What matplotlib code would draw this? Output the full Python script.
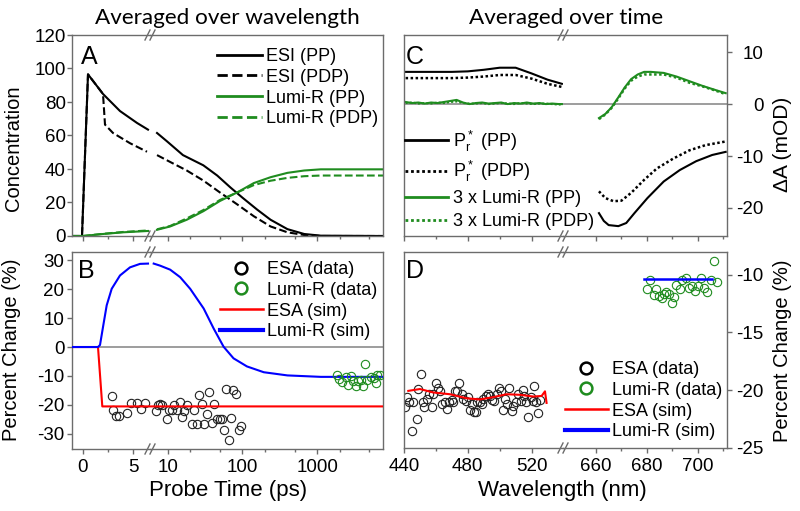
import matplotlib
matplotlib.use('Agg')
import matplotlib.pyplot as plt
from matplotlib.lines import Line2D
from matplotlib.ticker import NullFormatter

plt.rcParams['font.family'] = ['Liberation Sans', 'DejaVu Sans']
plt.rcParams['axes.unicode_minus'] = False
plt.rcParams['mathtext.default'] = 'regular'

# ---------------- data ----------------
# Panel A: concentrations vs probe time (ps)
t_esi_pp = [-1.1, -0.1, 0.5, 2.0, 3.7, 5.4, 6.5, 7.2, 9.8, 16, 30, 46, 69, 100, 157, 238, 400, 670, 1120, 7600]
esi_pp = [0, 0, 96.5, 84.8, 74.6, 67.5, 63.5, 61.5, 56.5, 48.3, 42.2, 36.1, 29.0, 22.9, 15.8, 9.7, 4.1, 1.2, 0.2, 0]
t_esi_pdp = [-1.1, -0.1, 0.5, 2.0, 2.2, 3.0, 4.7, 6.4, 7.2, 10.8, 18, 30, 50, 85, 142, 238, 400, 670, 1120, 7600]
esi_pdp = [0, 0, 96.5, 84.8, 66.5, 61.5, 55.4, 50.3, 48.3, 44.2, 39.1, 33.1, 26.0, 18.9, 11.8, 5.7, 2.2, 0.6, 0, 0]
t_lumi = [-1.1, 0, 2, 4, 6.5, 7.2, 10.8, 18, 30, 50, 85, 142, 238, 400, 670, 1120, 7600]
lumi_pp = [0, 0, 1.2, 2.2, 3.0, 3.7, 5.7, 9.7, 14.8, 20.9, 26.0, 31.6, 35.1, 37.7, 39.1, 39.8, 39.8]
lumi_pdp = [0, 0, 1.3, 2.4, 3.3, 4.0, 6.0, 10.5, 15.5, 21.5, 26.0, 30.4, 33.0, 34.7, 35.7, 36.1, 36.1]

# Panel B: percent change vs probe time (ps)
t_esa_sim = [-1.1, 1.5, 1.93, 7600]
esa_sim = [0, 0, -20.5, -20.5]
t_lumi_sim = [-1.1, 1.5, 1.7, 2.03, 2.37, 2.87, 3.7, 4.7, 5.7, 6.5, 7.9, 10.8, 14.7, 20, 30.3, 41.2, 56, 76, 115, 193, 400, 1120, 7600]
lumi_sim = [0, 0, 0.7, 7.5, 14.4, 20.1, 24.7, 27.5, 28.7, 28.8, 28.1, 26.7, 24.1, 20.1, 13.3, 6.4, 0.1, -3.9, -6.7, -8.7, -9.8, -10.3, -10.3]
t_esa_data = [2.87, 3.03, 3.27, 3.6, 4.37, 4.8, 5.37, 5.8, 6.2, 7.0, 7.4, 7.94, 8.4, 9.8, 10.3, 11.4, 12.2, 13.3,
              14.4, 15.5, 16.3, 18.1, 21.2, 22.7, 24.6, 26.4, 28.7, 30.3, 33.6, 36.1, 39, 42, 45.7, 49.6, 53.3,
              56, 60.4, 66, 71, 75, 82, 90, 97]
esa_data = [-17.0, -21.6, -23.9, -23.9, -22.7, -19.3, -19.3, -21.3, -19.3, -22.2, -19.9, -19.7, -19.9, -24.7,
            -21.8, -21.9, -19.9, -21.9, -19.0, -24.2, -22.2, -19.9, -26.7, -21.8, -26.7, -16.7, -19.7, -26.7,
            -23.0, -15.5, -26.2, -19.7, -25.0, -25.0, -25.0, -28.8, -14.5, -32.2, -24.5, -14.7, -16.2, -28.8, -27.1]
t_lumi_data = [1860, 1960, 2180, 2410, 2560, 2830, 2980, 3300, 3480, 3840, 4120, 4340, 4700, 5200, 5800, 6100, 6400, 6900]
lumi_data = [-9.6, -11.0, -12.1, -10.2, -13.0, -9.9, -11.9, -13.6, -11.9, -11.3, -13.3, -5.9, -11.3, -10.2,
             -10.7, -12.5, -9.8, -9.6]

# Panel C: dA (mOD) vs wavelength (nm)
wl_c_left = [441, 450, 460, 470, 480, 490, 500, 510, 520, 530, 539]
pr_pp_left = [6.2, 6.2, 6.2, 6.2, 6.3, 6.6, 7.0, 7.0, 5.9, 4.7, 3.9]
pr_pdp_left = [5.0, 5.0, 5.0, 5.0, 5.1, 5.3, 5.6, 5.6, 4.9, 3.9, 3.3]
wl_c_green_left = [441, 445, 449, 453, 457, 461, 465, 469, 473, 477, 481, 485, 489, 493, 497, 501, 505, 509, 513,
                   517, 521, 525, 529, 533, 537, 539]
lumi3_pp_left = [0.4, 0.2, 0.3, 0.1, 0.3, 0.2, 0.4, 0.6, 0.8, 0.3, 0.0, 0.2, 0.3, 0.1, 0.2, 0.3, 0.0, 0.2, 0.1,
                 0.3, 0.1, 0.2, 0.0, 0.1, 0.0, 0.0]
lumi3_pdp_left = [0.2, 0.3, 0.1, 0.2, 0.1, 0.3, 0.2, 0.4, 0.5, 0.2, 0.1, 0.1, 0.2, 0.0, 0.1, 0.2, 0.1, 0.0, 0.2,
                  0.1, 0.0, 0.1, 0.1, 0.0, -0.1, 0.0]
wl_c_green_right = [661.3, 663.8, 666.3, 668.9, 671.4, 673.9, 676.5, 679, 681.6, 686.7, 691.7, 696.8, 701.9, 707, 711]
lumi3_pp_right = [-2.7, -1.9, -0.6, 1.3, 3.2, 4.8, 5.7, 6.2, 6.2, 6.0, 5.3, 4.4, 3.5, 2.7, 2.1]
lumi3_pdp_right = [-2.9, -2.0, -0.7, 1.1, 3.0, 4.5, 5.3, 5.7, 5.7, 5.7, 5.1, 4.1, 3.4, 2.6, 1.9]
wl_pr_pp_right = [661.3, 663.2, 665.1, 668.9, 672, 675.2, 680.3, 686.7, 693, 699.4, 705.7, 711]
pr_pp_right = [-21.0, -22.5, -23.3, -23.5, -22.9, -21.0, -18.1, -14.9, -12.7, -11.0, -9.8, -9.2]
wl_pr_pdp_right = [661.3, 663.8, 667, 670.1, 673.9, 679, 684, 690.4, 696.8, 703.1, 711]
pr_pdp_right = [-16.8, -18.1, -18.7, -18.6, -17.1, -14.6, -12.4, -10.5, -8.9, -7.9, -7.2]

# Panel D: percent change vs wavelength (nm)
wl_esa_data = [440.6, 442.1, 443.4, 444.8, 445.9, 447.9, 449.0, 450.5, 451.7, 452.5, 454.2, 455.9, 457.4, 458.4,
               459.9, 461.5, 462.6, 464.0, 465.7, 466.8, 468.4, 469.9, 470.9, 472.0, 473.0, 474.7, 476.2, 477.2,
               478.7, 480.3, 481.4, 482.4, 483.9, 485.1, 486.0, 487.7, 488.7, 489.7, 491.4, 492.5, 493.9, 495.4,
               496.6, 498.1, 499.8, 500.6, 501.9, 503.3, 504.4, 506.0, 507.5, 508.6, 510.0, 511.7, 513.2, 514.4,
               515.2, 516.5, 518.0, 519.4, 520.7, 521.7, 522.8, 523.8, 525.3]
esa_d_data = [-21.49, -20.57, -20.98, -23.50, -21.06, -22.50, -19.91, -18.56, -20.98, -21.44, -20.77, -20.34,
              -21.44, -20.34, -19.34, -19.77, -20.06, -21.21, -20.98, -21.64, -20.98, -20.86, -20.98, -20.06,
              -20.11, -19.42, -20.34, -20.77, -20.92, -20.63, -21.72, -21.21, -21.92, -21.92, -20.98, -20.98,
              -21.21, -20.77, -20.49, -20.34, -20.49, -20.86, -20.92, -20.34, -19.77, -20.11, -21.72, -20.77,
              -21.21, -19.77, -21.78, -21.35, -21.06, -20.34, -20.92, -20.00, -20.49, -21.06, -22.36, -20.63,
              -20.92, -19.63, -21.06, -22.01, -20.86]
wl_esa_sim = [442.7, 450, 458.4, 468.8, 479.3, 487.6, 496, 504.4, 512.7, 521.1, 526.3, 528.4, 529.4]
esa_d_sim = [-20.06, -19.9, -20.2, -20.35, -20.7, -20.8, -20.6, -20.35, -20.4, -20.55, -20.5, -20.1, -21.1]
wl_lumi_data = [680.1, 681.3, 682.9, 683.5, 684.8, 686.0, 686.7, 687.7, 688.6, 689.8, 690.9, 691.7, 693.0, 694.0,
                695.5, 696.6, 697.7, 699.0, 700.0, 701.3, 702.5, 703.8, 705.1, 706.3, 707.4]
lumi_d_data = [-11.23, -10.49, -11.81, -11.21, -11.87, -12.07, -11.72, -11.52, -11.72, -12.44, -11.95, -10.92,
               -11.29, -10.43, -10.29, -11.15, -11.00, -11.38, -11.00, -10.29, -11.15, -11.49, -10.43, -8.79, -10.63]
wl_lumi_sim = [678.8, 705.5]
lumi_d_sim = [-10.37, -10.37]

# ---------------- style ----------------
GREEN = '#1f8c1f'
SPINE = '#6c6c6c'
ZERO = '#8c8c8c'
W, H = 800, 511
fig = plt.figure(figsize=(W / 100, H / 100), dpi=100)


def box(x0, x1, ytop, ybot):
    return [x0 / W, 1 - ybot / H, (x1 - x0) / W, (ybot - ytop) / H]


def pair(x0, xb, x1, ytop, ybot):
    axL = fig.add_axes(box(x0, xb, ytop, ybot))
    axR = fig.add_axes(box(xb, x1, ytop, ybot))
    for ax in (axL, axR):
        ax.set_facecolor('none')
        for s in ax.spines.values():
            s.set_color(SPINE)
            s.set_linewidth(1.0)
        ax.tick_params(which='both', direction='out', color=SPINE, width=1.0,
                       labelsize=13.5, labelcolor='black', top=False)
        ax.tick_params(which='major', length=3.5)
        ax.tick_params(which='minor', length=2.2)
    axL.spines['right'].set_visible(False)
    axR.spines['left'].set_visible(False)
    return axL, axR


def split_plot(axL, axR, t, v, tl=6.7, tr=6.6, **kw):
    axL.plot([a for a in t if a <= tl], [b for a, b in zip(t, v) if a <= tl], **kw)
    axR.plot([a for a in t if a >= tr], [b for a, b in zip(t, v) if a >= tr], **kw)


def breakmark(xc, y):
    for off in (-2.5, 2.5):
        fig.add_artist(Line2D([(xc + off - 2.5) / W, (xc + off + 2.5) / W],
                              [1 - (y + 5) / H, 1 - (y - 5) / H],
                              color=SPINE, lw=1.0, transform=fig.transFigure))


def time_axes(axL, axR):
    axL.set_xlim(-1.1, 6.7)
    axR.set_xscale('log')
    axR.set_xlim(5.8, 7600)
    axL.set_xticks([0, 5])
    axL.set_xticks([2.5], minor=True)
    axR.set_xticks([10, 100, 1000])
    axR.set_xticks([20, 50, 200, 500, 2000, 5000], minor=True)
    axR.xaxis.set_minor_formatter(NullFormatter())
    axR.set_xticklabels(['10', '100', '1000'])
    axR.tick_params(axis='y', left=False, labelleft=False)


def wl_axes(axL, axR):
    axL.set_xlim(440, 539.7)
    axR.set_xlim(647.2, 711.5)
    axL.set_xticks([440, 480, 520])
    axL.set_xticks([460, 500], minor=True)
    axR.set_xticks([660, 680, 700])
    axR.set_xticks([670, 690, 710], minor=True)
    axL.tick_params(axis='y', left=False, labelleft=False)
    axR.yaxis.tick_right()
    axR.tick_params(axis='y', which='both', right=True, labelright=True, left=False, labelleft=False,
                    pad=23)


LEGKW = dict(bbox_transform=fig.transFigure, frameon=False, fontsize=13, borderpad=0, borderaxespad=0)

# ---------- Panel A ----------
aL, aR = pair(72, 150, 383, 35, 236)
time_axes(aL, aR)
for ax in (aL, aR):
    ax.set_ylim(0, 120)
    ax.tick_params(axis='x', labelbottom=False)
split_plot(aL, aR, t_esi_pp, esi_pp, color='k', lw=1.5)
split_plot(aL, aR, t_esi_pdp, esi_pdp, color='k', lw=1.5, ls='--')
split_plot(aL, aR, t_lumi, lumi_pp, color=GREEN, lw=1.5)
split_plot(aL, aR, t_lumi, lumi_pdp, color=GREEN, lw=1.5, ls='--')
aL.set_yticks(range(0, 121, 20))
aL.tick_params(axis='y', pad=1)
hA = [Line2D([], [], color='k', lw=2), Line2D([], [], color='k', lw=2, ls='--'),
      Line2D([], [], color=GREEN, lw=2), Line2D([], [], color=GREEN, lw=2, ls='--')]
aR.legend(hA, ['ESI (PP)', 'ESI (PDP)', 'Lumi-R (PP)', 'Lumi-R (PDP)'], loc='upper right',
          bbox_to_anchor=(378 / W, 1 - 48 / H), handlelength=2.5, handletextpad=0.2, labelspacing=0.21, **LEGKW)

# ---------- Panel B ----------
bL, bR = pair(72, 150, 383, 252, 449)
time_axes(bL, bR)
for ax in (bL, bR):
    ax.set_ylim(-35.2, 32.8)
    ax.axhline(0, color=ZERO, lw=1.2, zorder=1)
    ax.plot(t_esa_sim, esa_sim, color='red', lw=1.5, zorder=3)
split_plot(bL, bR, t_lumi_sim, lumi_sim, tl=6.7, tr=6.0, color='blue', lw=1.5, zorder=3)
split_plot(bL, bR, t_esa_data, esa_data, tl=6.5, tr=6.5, ls='none', marker='o', mfc='none', mec='#222222',
           ms=6, mew=0.8, zorder=2)
bR.plot(t_lumi_data, lumi_data, ls='none', marker='o', mfc='none', mec=GREEN, ms=6, mew=0.8, zorder=4)
bL.set_yticks(range(-30, 31, 10))
bL.tick_params(axis='y', pad=2)
hB = [Line2D([], [], ls='none', marker='o', mfc='none', mec='k', ms=8.5, mew=1.8),
      Line2D([], [], ls='none', marker='o', mfc='none', mec=GREEN, ms=8.5, mew=1.8),
      Line2D([], [], color='red', lw=1.8), Line2D([], [], color='blue', lw=3)]
bR.legend(hB, ['ESA (data)', 'Lumi-R (data)', 'ESA (sim)', 'Lumi-R (sim)'], loc='upper right',
          bbox_to_anchor=(377 / W, 1 - 261 / H), handlelength=2.4, handletextpad=0.2, labelspacing=0.21, **LEGKW)

# ---------- Panel C ----------
cL, cR = pair(404, 563, 727, 35, 236)
wl_axes(cL, cR)
for ax in (cL, cR):
    ax.set_ylim(-25.4, 13.3)
    ax.tick_params(axis='x', labelbottom=False)
    ax.axhline(0, color=ZERO, lw=1.2, zorder=1)
cL.plot(wl_c_left, pr_pp_left, color='k', lw=1.5)
cL.plot(wl_c_left, pr_pdp_left, color='k', lw=1.8, ls=(0, (1, 1)))
cL.plot(wl_c_green_left, lumi3_pp_left, color=GREEN, lw=1.5)
cL.plot(wl_c_green_left, lumi3_pdp_left, color=GREEN, lw=1.5, ls=(0, (1, 1)))
cR.plot(wl_c_green_right, lumi3_pp_right, color=GREEN, lw=1.5)
cR.plot(wl_c_green_right, lumi3_pdp_right, color=GREEN, lw=1.8, ls=(0, (1, 1)))
cR.plot(wl_pr_pp_right, pr_pp_right, color='k', lw=1.5)
cR.plot(wl_pr_pdp_right, pr_pdp_right, color='k', lw=1.8, ls=(0, (1, 1)))
cR.set_yticks([-20, -10, 0, 10])
for lbl in cR.get_yticklabels():
    lbl.set_horizontalalignment('right')
hC = [Line2D([], [], color='k', lw=2), Line2D([], [], color='k', lw=2, ls=(0, (1, 1))),
      Line2D([], [], color=GREEN, lw=2), Line2D([], [], color=GREEN, lw=2, ls=(0, (1, 1)))]
cL.legend(hC, ['P$_r^*$ (PP)', 'P$_r^*$ (PDP)', '3 x Lumi-R (PP)', '3 x Lumi-R (PDP)'], loc='upper left',
          bbox_to_anchor=(405 / W, 1 - 128.5 / H), handlelength=2.4, handletextpad=0.28, labelspacing=0.32,
          **LEGKW)

# ---------- Panel D ----------
dL, dR = pair(404, 563, 727, 252, 448)
wl_axes(dL, dR)
for ax in (dL, dR):
    ax.set_ylim(-25.0, -8.05)
dL.plot(wl_esa_data, esa_d_data, ls='none', marker='o', mfc='none', mec='#222222', ms=6, mew=0.8, zorder=2)
dL.plot(wl_esa_sim, esa_d_sim, color='red', lw=1.5, zorder=3)
dR.plot(wl_lumi_data, lumi_d_data, ls='none', marker='o', mfc='none', mec=GREEN, ms=6, mew=0.8, zorder=2)
dR.plot(wl_lumi_sim, lumi_d_sim, color='blue', lw=1.8, zorder=3)
dR.set_yticks([-25, -20, -15, -10])
for lbl in dR.get_yticklabels():
    lbl.set_horizontalalignment('right')
dR.legend(hB, ['ESA (data)', 'Lumi-R (data)', 'ESA (sim)', 'Lumi-R (sim)'], loc='upper right',
          bbox_to_anchor=(722 / W, 1 - 361 / H), handlelength=2.4, handletextpad=0.2, labelspacing=0.21, **LEGKW)

# break marks
for yy in (35, 236, 252, 449):
    breakmark(150, yy)
for yy in (35, 236, 252, 448):
    breakmark(563, yy)

# panel letters
for x, y, s in ((81, 64, 'A'), (78, 278, 'B'), (406, 64, 'C'), (406, 278, 'D')):
    fig.text(x / W, 1 - y / H, s, fontsize=18, va='baseline', ha='left')

# axis labels
fig.text(14 / W, 1 - 148 / H, 'Concentration', rotation=90, ha='center', va='center', fontsize=14.5)
fig.text(12 / W, 1 - 350 / H, 'Percent Change (%)', rotation=90, ha='center', va='center', fontsize=14.5)
fig.text(783 / W, 1 - 144 / H, '\u0394A (mOD)', rotation=90, ha='center', va='center', fontsize=15)
fig.text(782 / W, 1 - 351 / H, 'Percent Change (%)', rotation=90, ha='center', va='center', fontsize=14.5)
fig.text(228 / W, 1 - 496 / H, 'Probe Time (ps)', ha='center', va='baseline', fontsize=16)
fig.text(562 / W, 1 - 496 / H, 'Wavelength (nm)', ha='center', va='baseline', fontsize=16)

# titles
t1 = fig.text(227.5 / W, 1 - 24 / H, 'Averaged over wavelength', ha='center', va='baseline',
              fontsize=16, family=['Lato', 'DejaVu Sans'])
t2 = fig.text(566 / W, 1 - 24 / H, 'Averaged over time', ha='center', va='baseline',
              fontsize=16, family=['Lato', 'DejaVu Sans'])
fig.canvas.draw()
r = fig.canvas.get_renderer()
scale = (265 / t1.get_window_extent(r).width + 195 / t2.get_window_extent(r).width) / 2
for t in (t1, t2):
    t.set_fontsize(16 * scale)

fig.savefig('out.png', dpi=100)
